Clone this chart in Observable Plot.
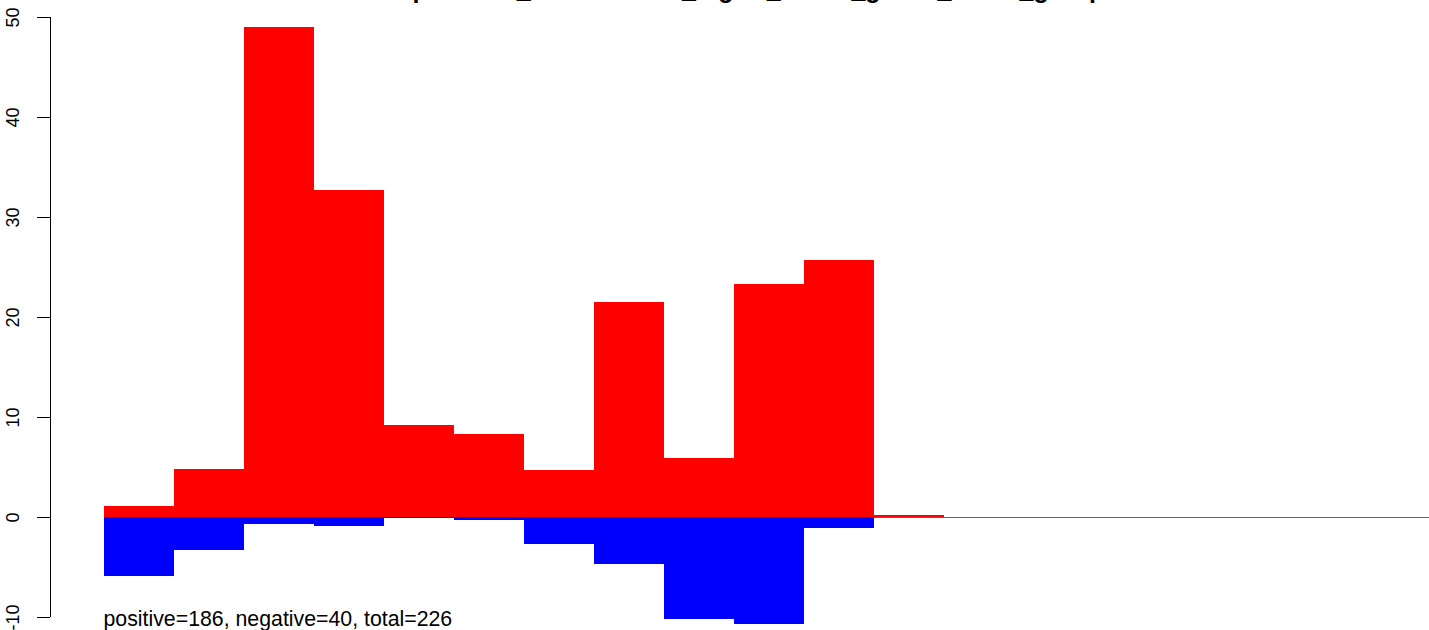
<!DOCTYPE html>
<html>
<head>
<meta charset="utf-8">
<script src="https://cdn.jsdelivr.net/npm/d3@7"></script>
<script src="https://cdn.jsdelivr.net/npm/@observablehq/plot@0.6"></script>
<style>
  html, body { margin: 0; padding: 0; background: #ffffff; }
  #chart { width: 1429px; height: 630px; overflow: hidden; }
</style>
</head>
<body>
<div id="chart"></div>
<script>
// ---- data ----
const bins = [1, 2, 3, 4, 5, 6, 7, 8, 9, 10, 11, 12];
const positiveValues = [1.1, 4.8, 49.0, 32.7, 9.2, 8.3, 4.7, 21.5, 5.9, 23.3, 25.7, 0.2];
const negativeValues = [-5.9, -3.3, -0.7, -0.9, -0.1, -0.3, -2.7, -4.7, -10.2, -10.7, -1.1, 0];
const yTicks = [-10, 0, 10, 20, 30, 40, 50];
// title is cropped off at the top edge in the reference; only its lowest pixels show
const titleText = "expression_distributions_logFC_tumor_genes_count_group";
const footnote = "positive=186, negative=40, total=226";

// ---- build table ----
const rows = bins.flatMap((b, i) => [
  {bin: b, x1: i, x2: i + 1, value: positiveValues[i], sign: "positive"},
  {bin: b, x1: i, x2: i + 1, value: negativeValues[i], sign: "negative"}
]);

const xDomain = [-0.7714, 18.9286];
const yDomain = [-11.3, 50];
const font = "'Liberation Sans', Arial, Helvetica, sans-serif";

const chart = Plot.plot({
  width: 1429,
  height: 630,
  marginLeft: 50,
  marginRight: 0,
  marginTop: 17,
  marginBottom: 0,
  style: {fontFamily: font, color: "black", background: "white", overflow: "hidden"},
  x: {domain: xDomain, axis: null},
  y: {domain: yDomain, axis: null},
  marks: [
    Plot.ruleY([0], {x1: 0, x2: xDomain[1], stroke: "#666666", strokeWidth: 1}),
    Plot.rect(rows, {
      x1: "x1", x2: "x2", y1: 0, y2: "value",
      fill: d => d.sign === "positive" ? "#FF0000" : "#0000FF"
    }),
    Plot.ruleX([xDomain[0]], {y1: yTicks[0], y2: yTicks[yTicks.length - 1], stroke: "black", strokeWidth: 1}),
    Plot.axisY({
      ticks: yTicks,
      tickSize: 13,
      tickPadding: 24.5,
      tickRotate: -90,
      textAnchor: "middle",
      lineAnchor: "middle",
      fontSize: 18,
      stroke: "black",
      fill: "black",
      label: null,
      tickFormat: d => String(d)
    }),
    Plot.text([titleText], {
      text: d => d,
      frameAnchor: "top",
      lineAnchor: "bottom",
      dx: 4.5,
      dy: -19.5,
      fontSize: 25,
      fontWeight: "bold",
      fill: "black"
    }),
    Plot.text([footnote], {
      text: d => d,
      x: 0,
      frameAnchor: "bottom",
      textAnchor: "start",
      lineAnchor: "bottom",
      dx: -1,
      dy: -5,
      fontSize: 21.3,
      fill: "black"
    })
  ]
});

document.getElementById("chart").appendChild(chart);
</script>
</body>
</html>
